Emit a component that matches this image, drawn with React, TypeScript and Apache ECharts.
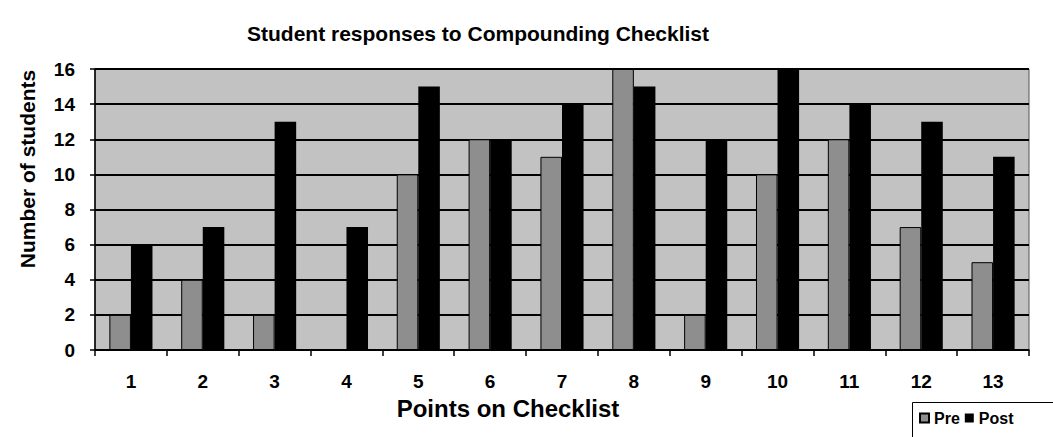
import React, { useEffect, useRef } from "react";
import * as echarts from "echarts";

const categories = ["1", "2", "3", "4", "5", "6", "7", "8", "9", "10", "11", "12", "13"];
const preValues = [2, 4, 2, 0, 10, 12, 11, 16, 2, 10, 12, 7, 5];
const postValues = [6, 7, 13, 7, 15, 12, 14, 15, 12, 16, 14, 13, 11];
const seriesNames = ["Pre", "Post"];
const titleText = "Student responses to Compounding Checklist";
const xAxisTitle = "Points on Checklist";
const yAxisTitle = "Number of students";

const FONT = "'Liberation Sans', Arial, Helvetica, sans-serif";

export default function App() {
  const ref = useRef<HTMLDivElement>(null);
  useEffect(() => {
    document.body.style.margin = "0";
    const chart = echarts.init(ref.current!, null, { renderer: "svg" });
    chart.setOption({
      animation: false,
      backgroundColor: "#ffffff",
      textStyle: { fontFamily: FONT },
      grid: {
        left: 95,
        right: 24,
        top: 69,
        bottom: 87,
        show: true,
        backgroundColor: "#c2c2c2",
        borderColor: "#555",
        borderWidth: 1,
      },
      legend: {
        left: 914,
        top: 405,
        itemWidth: 9,
        itemHeight: 9,
        itemGap: 5,
        icon: "rect",
        data: seriesNames,
        textStyle: { fontFamily: FONT, fontWeight: "bold", fontSize: 16, color: "#000" },
        z: 10,
      },
      xAxis: {
        type: "category",
        data: categories,
        axisLine: { lineStyle: { color: "#000", width: 1.5 } },
        axisTick: { show: true, length: 6, lineStyle: { color: "#000", width: 1.5 } },
        axisLabel: { color: "#000", fontWeight: "bold", fontSize: 19, margin: 22, fontFamily: FONT },
        splitLine: { show: false },
      },
      yAxis: {
        type: "value",
        min: 0,
        max: 16,
        interval: 2,
        axisLine: { show: true, lineStyle: { color: "#000", width: 1.5 } },
        axisTick: { show: true, length: 5, lineStyle: { color: "#000", width: 1.5 } },
        axisLabel: { color: "#000", fontWeight: "bold", fontSize: 19, margin: 20, fontFamily: FONT },
        splitLine: { show: true, lineStyle: { color: "#000", width: 2 } },
      },
      graphic: [
        {
          type: "text",
          x: 478,
          y: 33,
          z: 10,
          style: {
            text: titleText,
            font: `bold 21px ${FONT}`,
            fill: "#000",
            textAlign: "center",
            textVerticalAlign: "middle",
          },
        },
        {
          type: "text",
          x: 508,
          y: 408,
          z: 10,
          style: {
            text: xAxisTitle,
            font: `bold 24px ${FONT}`,
            fill: "#000",
            textAlign: "center",
            textVerticalAlign: "middle",
          },
        },
        {
          type: "text",
          x: 27,
          y: 169,
          rotation: Math.PI / 2,
          z: 10,
          style: {
            text: yAxisTitle,
            font: `bold 21px ${FONT}`,
            fill: "#000",
            textAlign: "center",
            textVerticalAlign: "middle",
          },
        },
        {
          type: "rect",
          z: 1,
          shape: { x: 912.5, y: 402.5, width: 200, height: 100 },
          style: { fill: "#fff", stroke: "#000", lineWidth: 1 },
        },
      ],
      series: [
        {
          name: seriesNames[0],
          type: "bar",
          data: preValues,
          barGap: "0%",
          barCategoryGap: "40%",
          itemStyle: { color: "#8e8e8e", borderColor: "#000", borderWidth: 1 },
        },
        {
          name: seriesNames[1],
          type: "bar",
          data: postValues,
          barGap: "0%",
          barCategoryGap: "40%",
          itemStyle: { color: "#000000" },
        },
      ],
    });
    return () => chart.dispose();
  }, []);
  return (
    <div
      ref={ref}
      style={{ position: "fixed", left: 0, top: 0, width: 1053, height: 437 }}
    />
  );
}
